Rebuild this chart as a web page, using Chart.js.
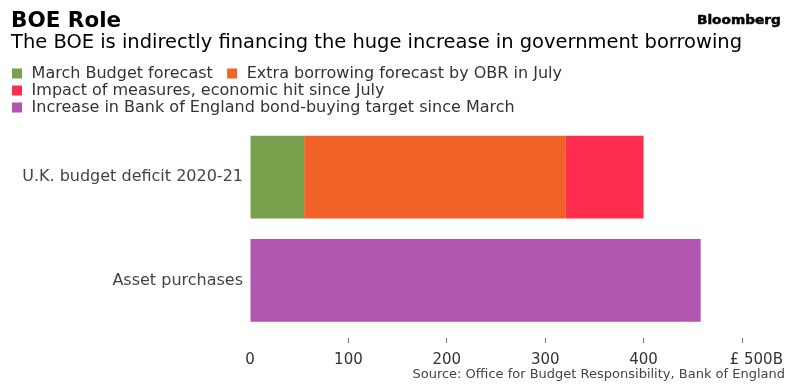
<!DOCTYPE html>
<html>
<head>
<meta charset="utf-8">
<script src="https://cdn.jsdelivr.net/npm/chart.js@4/dist/chart.umd.min.js"></script>
<style>
html, body { margin: 0; padding: 0; background: #fff; }
#wrap { width: 787px; height: 387px; }
</style>
</head>
<body>
<div id="wrap"><canvas id="chart"></canvas></div>
<script>
// data, £ billions
let categories = ["U.K. budget deficit 2020-21", "Asset purchases"];
let marchBudget = [55, null];
let extraObr = [266, null];
let impactMeasures = [79, null];
let bondBuying = [null, 458];
let seriesNames = [
    "March Budget forecast",
    "Extra borrowing forecast by OBR in July",
    "Impact of measures, economic hit since July",
    "Increase in Bank of England bond-buying target since March"
];
let tickLabels = ["0", "100", "200", "300", "400", "£ 500B"];

let titleText = "BOE Role";
let subtitleText = "The BOE is indirectly financing the huge increase in government borrowing";
let sourceText = "Source: Office for Budget Responsibility, Bank of England";

let colors = ["#79a04c", "#f26226", "#ff2d4f", "#b056ae"];
let fontFamily = "'DejaVu Sans', Verdana, sans-serif";

Chart.defaults.font.family = fontFamily;

// Bloomberg mark and the source line
let extraText = {
    id: "extraText",
    afterDraw(chart) {
        let ctx = chart.ctx;
        ctx.save();
        ctx.textBaseline = "alphabetic";
        ctx.fillStyle = "#000";
        ctx.strokeStyle = "#000";
        ctx.lineWidth = 0.5;
        ctx.font = "bold 12px " + fontFamily;
        ctx.textAlign = "left";
        ctx.translate(697, 24);
        ctx.scale(1.14, 1);
        ctx.fillText("Bloomberg", 0, 0);
        ctx.strokeText("Bloomberg", 0, 0);
        ctx.restore();

        ctx.save();
        ctx.textAlign = "right";
        ctx.textBaseline = "alphabetic";
        ctx.fillStyle = "#444";
        ctx.font = "13px " + fontFamily;
        ctx.fillText(sourceText, 785, 378);
        ctx.restore();
    }
};

let context = document.getElementById("chart").getContext("2d");
let data = {
    labels: categories,
    datasets: [marchBudget, extraObr, impactMeasures, bondBuying].map((values, i) => {
        return {
            label: seriesNames[i],
            data: values,
            backgroundColor: colors[i],
            borderWidth: 0,
            barPercentage: 0.8,
            categoryPercentage: 1
        };
    })
};

let chart = new Chart(context, {
    type: "bar",
    data: data,
    plugins: [extraText],
    options: {
        indexAxis: "y",
        responsive: true,
        maintainAspectRatio: false,
        animation: false,
        layout: { padding: { left: 11, right: 45, top: 0, bottom: 10 } },
        plugins: {
            title: {
                display: true,
                text: titleText,
                align: "start",
                color: "#000",
                font: { size: 21.5, weight: "bold", lineHeight: 1 },
                padding: { top: 11, bottom: 0 }
            },
            subtitle: {
                display: true,
                text: subtitleText,
                align: "start",
                color: "#000",
                font: { size: 20, lineHeight: 1 },
                padding: { top: 0, bottom: 12 }
            },
            legend: {
                position: "top",
                align: "start",
                labels: {
                    boxWidth: 10,
                    boxHeight: 10,
                    padding: 1,
                    color: "#333",
                    font: { size: 16 },
                    generateLabels: function (c) {
                        let items = Chart.defaults.plugins.legend.labels.generateLabels(c);
                        items.forEach((item, i) => {
                            item.text = "\u200a" + item.text + (i === 0 ? "  \u2009" : "");
                            item.lineWidth = 0;
                        });
                        return items;
                    }
                }
            },
            tooltip: { enabled: false }
        },
        scales: {
            x: {
                stacked: true,
                min: 0,
                max: 500,
                border: { display: false },
                grid: {
                    drawOnChartArea: false,
                    tickLength: 11,
                    tickBorderDash: [0, 6, 5, 100],
                    tickWidth: 1,
                    tickColor: c => (c.tick && c.tick.value === 0) ? "rgba(0,0,0,0)" : "#777"
                },
                ticks: {
                    stepSize: 100,
                    autoSkip: false,
                    maxRotation: 0,
                    padding: 8,
                    color: "#333",
                    font: { size: 15 },
                    callback: function (value, index) {
                        let label = tickLabels[index];
                        // the last label hangs to the right of its tick
                        return index === tickLabels.length - 1 ? "      " + label : label;
                    }
                },
                afterFit: function (scale) {
                    scale.paddingLeft = 0;
                    scale.paddingRight = 0;
                }
            },
            y: {
                stacked: true,
                border: { display: false },
                grid: { display: false, drawTicks: false },
                ticks: {
                    padding: 7,
                    color: "#444",
                    font: { size: 16 }
                },
                afterFit: function (scale) {
                    scale.width = 239;
                }
            }
        }
    }
});
</script>
</body>
</html>
